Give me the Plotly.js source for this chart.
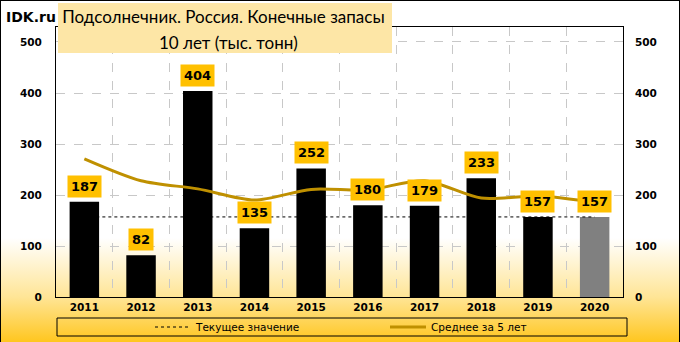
<!DOCTYPE html>
<html>
<head>
<meta charset="utf-8">
<script src="https://cdn.plot.ly/plotly-3.0.1.min.js"></script>
<style>
  html, body { margin: 0; padding: 0; }
  #wrap { position: relative; width: 680px; height: 342px;
    background: linear-gradient(to bottom, #ffffff 0px, #ffffff 238px, #FFE596 297px, #FFC61F 342px); }
  #chart { position: absolute; left: 0; top: 0; width: 680px; height: 342px; }
  #frame { position: absolute; left: 0; top: 0; width: 680px; height: 342px; box-sizing: border-box;
    border-top: 1px solid #000; border-left: 1px solid #000; border-right: 1px solid #000; pointer-events: none; }
</style>
</head>
<body>
<div id="wrap"><div id="chart"></div><div id="frame"></div></div>
<script>
const years = ["2011","2012","2013","2014","2015","2016","2017","2018","2019","2020"];
const stocks = [187, 82, 404, 135, 252, 180, 179, 233, 157, 157];
const avg5 = [271, 228, 212, 190, 211, 210, 228, 194, 198, 186];
const currentValue = 157;
const labels = stocks.map(String);
const titleLine1 = "Подсолнечник. Россия. Конечные запасы";
const titleLine2 = "10 лет (тыс. тонн)";

const barColors = years.map((y, i) => i === years.length - 1 ? "#808080" : "#000000");

const traces = [
  {
    type: "bar", x: years, y: stocks, width: 0.52,
    marker: { color: barColors, line: { color: "#000", width: 0 } },
    showlegend: false, hoverinfo: "x+y"
  },
  {
    type: "scatter", mode: "lines", x: years, y: years.map(() => currentValue),
    name: "Текущее значение",
    line: { color: "#000", width: 1, dash: "3px,3px" }
  },
  {
    type: "scatter", mode: "lines", x: years, y: avg5,
    name: "Среднее за 5 лет",
    line: { color: "#BF9000", width: 3, shape: "spline", smoothing: 0.8 }
  },
  {
    type: "scatter", mode: "lines", x: years, y: avg5, yaxis: "y2",
    showlegend: false, hoverinfo: "skip", line: { width: 0, color: "rgba(0,0,0,0)" }
  }
];

const annotations = years.map((y, i) => ({
  x: i, y: stocks[i], xref: "x", yref: "y",
  text: "<b>" + labels[i] + "</b>", showarrow: false,
  xanchor: "center", yanchor: "bottom", yshift: 4,
  bgcolor: "#FFC000", borderpad: 3,
  font: { family: "DejaVu Sans", size: 13, color: "#000" }
}));
annotations.push({
  xref: "paper", yref: "paper", x: (228 - 56) / 567, y: (297 - 42) / 270,
  xanchor: "center", yanchor: "middle", showarrow: false, text: titleLine2,
  font: { family: "Lato", size: 17, color: "#000" }
});
annotations.push({
  xref: "paper", yref: "paper", x: (4 - 56) / 567, y: (297 - 17) / 270,
  xanchor: "left", yanchor: "middle", showarrow: false, text: "<b>IDK.ru</b>",
  font: { family: "DejaVu Sans", size: 14, color: "#000" }
});

const tickFont = { family: "DejaVu Sans", size: 10.5, color: "#000", weight: "bold" };

const layout = {
  width: 680, height: 342,
  margin: { l: 56, r: 57, t: 27, b: 45, pad: 0, autoexpand: false },
  paper_bgcolor: "rgba(0,0,0,0)", plot_bgcolor: "rgba(0,0,0,0)",
  title: {
    text: titleLine1, x: 223.5 / 680, xanchor: "center", xref: "container",
    y: 1 - 17 / 342, yanchor: "middle", yref: "container",
    font: { family: "Lato", size: 17, color: "#000" }
  },
  xaxis: {
    type: "category", range: [-0.5, 9.5], tickson: "boundaries",
    showgrid: true, gridcolor: "#C8C8C8", griddash: "dash", gridwidth: 1,
    showline: true, linecolor: "#000", linewidth: 1, mirror: true,
    ticks: "", tickfont: tickFont, zeroline: false, fixedrange: true
  },
  yaxis: {
    range: [0, 529.4], dtick: 100, tick0: 0,
    showgrid: true, gridcolor: "#C8C8C8", griddash: "dash", gridwidth: 1,
    showline: true, linecolor: "#000", linewidth: 1, mirror: true,
    ticks: "", tickfont: tickFont, ticklabelstandoff: 11, zeroline: false, fixedrange: true
  },
  yaxis2: {
    overlaying: "y", side: "right", range: [0, 529.4], dtick: 100, tick0: 0,
    showgrid: false, showline: false, zeroline: false,
    ticks: "", tickfont: tickFont, ticklabelstandoff: 11, fixedrange: true
  },
  showlegend: true,
  legend: {
    orientation: "h", x: (150 - 56) / 567, xanchor: "left",
    yref: "container", y: 1 - 327 / 342, yanchor: "middle",
    bgcolor: "rgba(0,0,0,0)", borderwidth: 0,
    font: { family: "DejaVu Sans", size: 10.5, color: "#000" },
    entrywidth: 184, entrywidthmode: "pixels", itemwidth: 36
  },
  shapes: [
    {
      type: "rect", xref: "paper", yref: "paper", layer: "above",
      x0: (58 - 56) / 567, x1: (392 - 56) / 567,
      y0: (297 - 53) / 270, y1: (297 - 3) / 270,
      fillcolor: "rgb(253,230,166)", line: { width: 0 }
    },
    {
      type: "rect", xref: "paper", yref: "paper", layer: "above",
      x0: (57 - 56) / 567, x1: (627 - 56) / 567,
      y0: (297 - 336) / 270, y1: (297 - 318) / 270,
      fillcolor: "rgba(0,0,0,0)", line: { color: "#000", width: 1 }
    }
  ],
  annotations: annotations,
  hovermode: "closest"
};

Plotly.newPlot("chart", traces, layout, { displayModeBar: false });
</script>
</body>
</html>
